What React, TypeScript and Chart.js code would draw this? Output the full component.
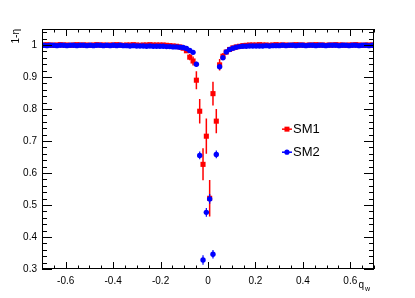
import React, { useEffect, useRef } from "react";
import { Chart, registerables } from "chart.js";

Chart.register(...registerables);

// Bin centres (q_w)
const BIN_CENTERS = [
  -0.693, -0.679, -0.665, -0.651, -0.637, -0.623, -0.609, -0.595, -0.581, -0.567,
  -0.553, -0.539, -0.525, -0.511, -0.497, -0.483, -0.469, -0.455, -0.441, -0.427,
  -0.413, -0.399, -0.385, -0.371, -0.357, -0.343, -0.329, -0.315, -0.301, -0.287,
  -0.273, -0.259, -0.245, -0.231, -0.217, -0.203, -0.189, -0.175, -0.161, -0.147,
  -0.133, -0.119, -0.105, -0.091, -0.077, -0.063, -0.049, -0.035, -0.021, -0.007,
  0.007, 0.021, 0.035, 0.049, 0.063, 0.077, 0.091, 0.105, 0.119, 0.133,
  0.147, 0.161, 0.175, 0.189, 0.203, 0.217, 0.231, 0.245, 0.259, 0.273,
  0.287, 0.301, 0.315, 0.329, 0.343, 0.357, 0.371, 0.385, 0.399, 0.413,
  0.427, 0.441, 0.455, 0.469, 0.483, 0.497, 0.511, 0.525, 0.539, 0.553,
  0.567, 0.581, 0.595, 0.609, 0.623, 0.637, 0.651, 0.665, 0.679, 0.693,
];

const SM1_VALUES = [
  1.0, 1.001, 1.0, 0.999, 1.0, 1.001, 1.0, 1.0, 0.999, 1.0,
  1.001, 1.0, 1.0, 1.0, 0.999, 1.0, 1.001, 1.0, 1.0, 0.999,
  1.0, 1.0, 1.001, 1.0, 0.999, 1.0, 1.0, 1.001, 1.0, 0.999,
  1.0, 1.0, 1.001, 1.0, 1.0, 1.0, 1.0, 0.999, 0.998, 0.997,
  0.996, 0.994, 0.99, 0.982, 0.962, 0.95, 0.89, 0.793, 0.627, 0.715,
  0.521, 0.848, 0.762, 0.938, 0.965, 0.978, 0.986, 0.991, 0.994, 0.996,
  0.998, 0.999, 1.0, 1.0, 1.0, 1.001, 1.0, 1.0, 0.999, 1.0,
  1.001, 1.0, 1.0, 1.0, 0.999, 1.0, 1.001, 1.0, 1.0, 0.999,
  1.0, 1.0, 1.001, 1.0, 1.0, 0.999, 1.0, 1.0, 1.001, 1.0,
  1.0, 0.999, 1.0, 1.0, 1.001, 1.0, 0.999, 1.0, 1.0, 1.0,
];

const SM1_ERRORS = [
  0.002, 0.002, 0.002, 0.002, 0.002, 0.002, 0.002, 0.002, 0.002, 0.002,
  0.002, 0.002, 0.002, 0.002, 0.002, 0.002, 0.002, 0.002, 0.002, 0.002,
  0.002, 0.002, 0.002, 0.002, 0.002, 0.002, 0.002, 0.002, 0.002, 0.002,
  0.002, 0.002, 0.002, 0.002, 0.002, 0.003, 0.003, 0.003, 0.003, 0.003,
  0.003, 0.003, 0.003, 0.006, 0.01, 0.014, 0.028, 0.038, 0.05, 0.055,
  0.057, 0.037, 0.038, 0.018, 0.01, 0.006, 0.003, 0.003, 0.003, 0.003,
  0.003, 0.003, 0.003, 0.003, 0.003, 0.002, 0.002, 0.002, 0.002, 0.002,
  0.002, 0.002, 0.002, 0.002, 0.002, 0.002, 0.002, 0.002, 0.002, 0.002,
  0.002, 0.002, 0.002, 0.002, 0.002, 0.002, 0.002, 0.002, 0.002, 0.002,
  0.002, 0.002, 0.002, 0.002, 0.002, 0.002, 0.002, 0.002, 0.002, 0.002,
];

const SM2_VALUES = [
  0.999, 0.998, 0.999, 0.999, 0.998, 0.999, 0.999, 0.998, 0.999, 0.999,
  0.998, 0.999, 0.999, 0.998, 0.999, 0.998, 0.999, 0.999, 0.998, 0.999,
  0.998, 0.999, 0.998, 0.999, 0.998, 0.998, 0.997, 0.998, 0.997, 0.997,
  0.997, 0.996, 0.997, 0.996, 0.996, 0.996, 0.996, 0.995, 0.995, 0.994,
  0.994, 0.993, 0.992, 0.989, 0.983, 0.977, 0.94, 0.655, 0.328, 0.477,
  0.519, 0.346, 0.658, 0.932, 0.96, 0.978, 0.986, 0.99, 0.993, 0.995,
  0.996, 0.996, 0.997, 0.997, 0.997, 0.997, 0.997, 0.998, 0.997, 0.998,
  0.998, 0.998, 0.999, 0.998, 0.999, 0.999, 0.998, 0.999, 0.999, 0.998,
  0.999, 0.999, 0.998, 0.999, 0.999, 0.998, 0.999, 0.999, 0.999, 0.998,
  0.999, 0.999, 0.998, 0.999, 0.999, 0.998, 0.999, 0.999, 0.998, 0.999,
];

const SM2_ERRORS = [
  0.001, 0.001, 0.001, 0.001, 0.001, 0.001, 0.001, 0.001, 0.001, 0.001,
  0.001, 0.001, 0.001, 0.001, 0.001, 0.001, 0.001, 0.001, 0.001, 0.001,
  0.001, 0.001, 0.001, 0.001, 0.001, 0.001, 0.001, 0.001, 0.001, 0.001,
  0.001, 0.001, 0.001, 0.001, 0.001, 0.001, 0.001, 0.001, 0.001, 0.001,
  0.001, 0.002, 0.002, 0.003, 0.004, 0.005, 0.008, 0.012, 0.015, 0.014,
  0.015, 0.013, 0.012, 0.008, 0.005, 0.004, 0.003, 0.002, 0.002, 0.001,
  0.001, 0.001, 0.001, 0.001, 0.001, 0.001, 0.001, 0.001, 0.001, 0.001,
  0.001, 0.001, 0.001, 0.001, 0.001, 0.001, 0.001, 0.001, 0.001, 0.001,
  0.001, 0.001, 0.001, 0.001, 0.001, 0.001, 0.001, 0.001, 0.001, 0.001,
  0.001, 0.001, 0.001, 0.001, 0.001, 0.001, 0.001, 0.001, 0.001, 0.001,
];

const SERIES_NAMES = ["SM1", "SM2"];
const X_TICKS = [-0.6, -0.4, -0.2, 0, 0.2, 0.4, 0.6];
const X_TICK_LABELS = ["-0.6", "-0.4", "-0.2", "0", "0.2", "0.4", "0.6"];
const Y_TICKS = [0.3, 0.4, 0.5, 0.6, 0.7, 0.8, 0.9, 1.0];
const Y_TICK_LABELS = ["0.3", "0.4", "0.5", "0.6", "0.7", "0.8", "0.9", "1"];
const X_RANGE = [-0.7, 0.7];
const Y_RANGE = [0.3, 1.05];
const X_MINOR_STEP = 0.05;
const Y_MINOR_STEP = 0.02;

const RED = "#ff0000";
const BLUE = "#0000ff";
const FONT = '"Liberation Sans", Arial, Helvetica, sans-serif';

const errorBarPlugin = {
  id: "errorBars",
  beforeDatasetDraw(chart: any, args: any) {
    const ds = chart.data.datasets[args.index];
    const meta = args.meta;
    const ys = chart.scales.y;
    const ctx = chart.ctx;
    const ca = chart.chartArea;
    ctx.save();
    ctx.beginPath();
    ctx.rect(ca.left, ca.top, ca.right - ca.left, ca.bottom - ca.top);
    ctx.clip();
    ctx.beginPath();
    ctx.strokeStyle = ds.errorColor;
    ctx.lineWidth = ds.errorWidth;
    meta.data.forEach((pt: any, i: number) => {
      const d = ds.data[i];
      const e = ds.errors[i];
      ctx.moveTo(pt.x, ys.getPixelForValue(d.y - e));
      ctx.lineTo(pt.x, ys.getPixelForValue(d.y + e));
    });
    ctx.stroke();
    ctx.restore();
  },
};

const framePlugin = {
  id: "rootFrame",
  afterDraw(chart: any) {
    const ctx = chart.ctx;
    const ca = chart.chartArea;
    const xs = chart.scales.x;
    const ys = chart.scales.y;
    ctx.save();
    ctx.strokeStyle = "#000";
    ctx.lineWidth = 1;
    ctx.strokeRect(ca.left + 0.5, ca.top + 0.5, ca.right - ca.left - 1, ca.bottom - ca.top - 1);

    ctx.beginPath();
    const xMajorLen = 7;
    const xMinorLen = 3.5;
    for (let v = X_RANGE[0]; v <= X_RANGE[1] + 1e-9; v += X_MINOR_STEP) {
      const vv = Math.round(v * 1000) / 1000;
      const isMajor = X_TICKS.some((t) => Math.abs(t - vv) < 1e-6);
      const len = isMajor ? xMajorLen : xMinorLen;
      const px = Math.round(xs.getPixelForValue(vv)) + 0.5;
      ctx.moveTo(px, ca.bottom);
      ctx.lineTo(px, ca.bottom - len);
      ctx.moveTo(px, ca.top);
      ctx.lineTo(px, ca.top + len);
    }
    const yMajorLen = 10;
    const yMinorLen = 5;
    for (let v = Y_RANGE[0]; v <= Y_RANGE[1] + 1e-9; v += Y_MINOR_STEP) {
      const vv = Math.round(v * 1000) / 1000;
      const isMajor = Y_TICKS.some((t) => Math.abs(t - vv) < 1e-6);
      const len = isMajor ? yMajorLen : yMinorLen;
      const py = Math.round(ys.getPixelForValue(vv)) + 0.5;
      ctx.moveTo(ca.left, py);
      ctx.lineTo(ca.left + len, py);
      ctx.moveTo(ca.right, py);
      ctx.lineTo(ca.right - len, py);
    }
    ctx.stroke();

    ctx.fillStyle = "#000";
    ctx.font = `10px ${FONT}`;
    ctx.textAlign = "center";
    ctx.textBaseline = "middle";
    X_TICKS.forEach((t, i) => {
      ctx.fillText(X_TICK_LABELS[i], xs.getPixelForValue(t), ca.bottom + 12);
    });
    ctx.textAlign = "right";
    Y_TICKS.forEach((t, i) => {
      ctx.fillText(Y_TICK_LABELS[i], ca.left - 5, ys.getPixelForValue(t));
    });

    // axis titles
    ctx.font = `7px ${FONT}`;
    const wW = ctx.measureText("w").width;
    ctx.textBaseline = "alphabetic";
    ctx.font = `10px ${FONT}`;
    ctx.textAlign = "right";
    ctx.fillText("q", ca.right - wW - 5, ca.bottom + 19);
    ctx.font = `7px ${FONT}`;
    ctx.textAlign = "left";
    ctx.fillText("w", ca.right - wW - 4, ca.bottom + 22);

    ctx.save();
    ctx.translate(ca.left - 23, ca.top);
    ctx.rotate(-Math.PI / 2);
    ctx.font = `10px ${FONT}`;
    ctx.textAlign = "right";
    ctx.textBaseline = "alphabetic";
    ctx.fillText("1-\u03b7", 0, 0);
    ctx.restore();

    // legend
    const legendX = xs.getPixelForValue(0.333);
    const items = [
      { name: SERIES_NAMES[0], color: RED, style: "rect", y: ys.getPixelForValue(0.737) },
      { name: SERIES_NAMES[1], color: BLUE, style: "circle", y: ys.getPixelForValue(0.665) },
    ];
    items.forEach((it) => {
      ctx.strokeStyle = it.color;
      ctx.fillStyle = it.color;
      ctx.lineWidth = 1.5;
      ctx.beginPath();
      ctx.moveTo(legendX - 5, it.y);
      ctx.lineTo(legendX + 5, it.y);
      ctx.stroke();
      ctx.beginPath();
      if (it.style === "rect") {
        ctx.rect(legendX - 2.5, it.y - 2.5, 5, 5);
      } else {
        ctx.arc(legendX, it.y, 2.6, 0, Math.PI * 2);
      }
      ctx.fill();
      ctx.fillStyle = "#000";
      ctx.font = `13px ${FONT}`;
      ctx.textAlign = "left";
      ctx.textBaseline = "middle";
      ctx.fillText(it.name, legendX + 6, it.y + 0.5);
    });
    ctx.restore();
  },
};

export default function App() {
  const canvasRef = useRef<HTMLCanvasElement | null>(null);

  useEffect(() => {
    if (!canvasRef.current) return;
    const mk = (vals: number[]) => BIN_CENTERS.map((x, i) => ({ x, y: vals[i] }));
    const chart = new Chart(canvasRef.current, {
      type: "scatter",
      data: {
        datasets: [
          {
            label: SERIES_NAMES[0],
            data: mk(SM1_VALUES),
            errors: SM1_ERRORS,
            errorColor: RED,
            errorWidth: 1.5,
            order: 2,
            pointStyle: "rect",
            pointRadius: 3.6,
            pointBackgroundColor: RED,
            pointBorderColor: RED,
            pointBorderWidth: 0,
            showLine: false,
          } as any,
          {
            label: SERIES_NAMES[1],
            data: mk(SM2_VALUES),
            errors: SM2_ERRORS,
            errorColor: BLUE,
            errorWidth: 1.2,
            order: 1,
            pointStyle: "circle",
            pointRadius: 2.7,
            pointBackgroundColor: BLUE,
            pointBorderColor: BLUE,
            pointBorderWidth: 0,
            showLine: false,
          } as any,
        ],
      },
      options: {
        responsive: false,
        animation: false,
        events: [],
        layout: { padding: { left: 42, right: 41, top: 29, bottom: 29 } },
        plugins: { legend: { display: false }, tooltip: { enabled: false } },
        scales: {
          x: { type: "linear", display: false, min: X_RANGE[0], max: X_RANGE[1] },
          y: { type: "linear", display: false, min: Y_RANGE[0], max: Y_RANGE[1] },
        },
      },
      plugins: [errorBarPlugin, framePlugin],
    });
    return () => chart.destroy();
  }, []);

  return (
    <div style={{ position: "fixed", left: 0, top: 0, width: 415, height: 298, background: "#fff" }}>
      <canvas ref={canvasRef} width={415} height={298} style={{ display: "block" }} />
    </div>
  );
}
